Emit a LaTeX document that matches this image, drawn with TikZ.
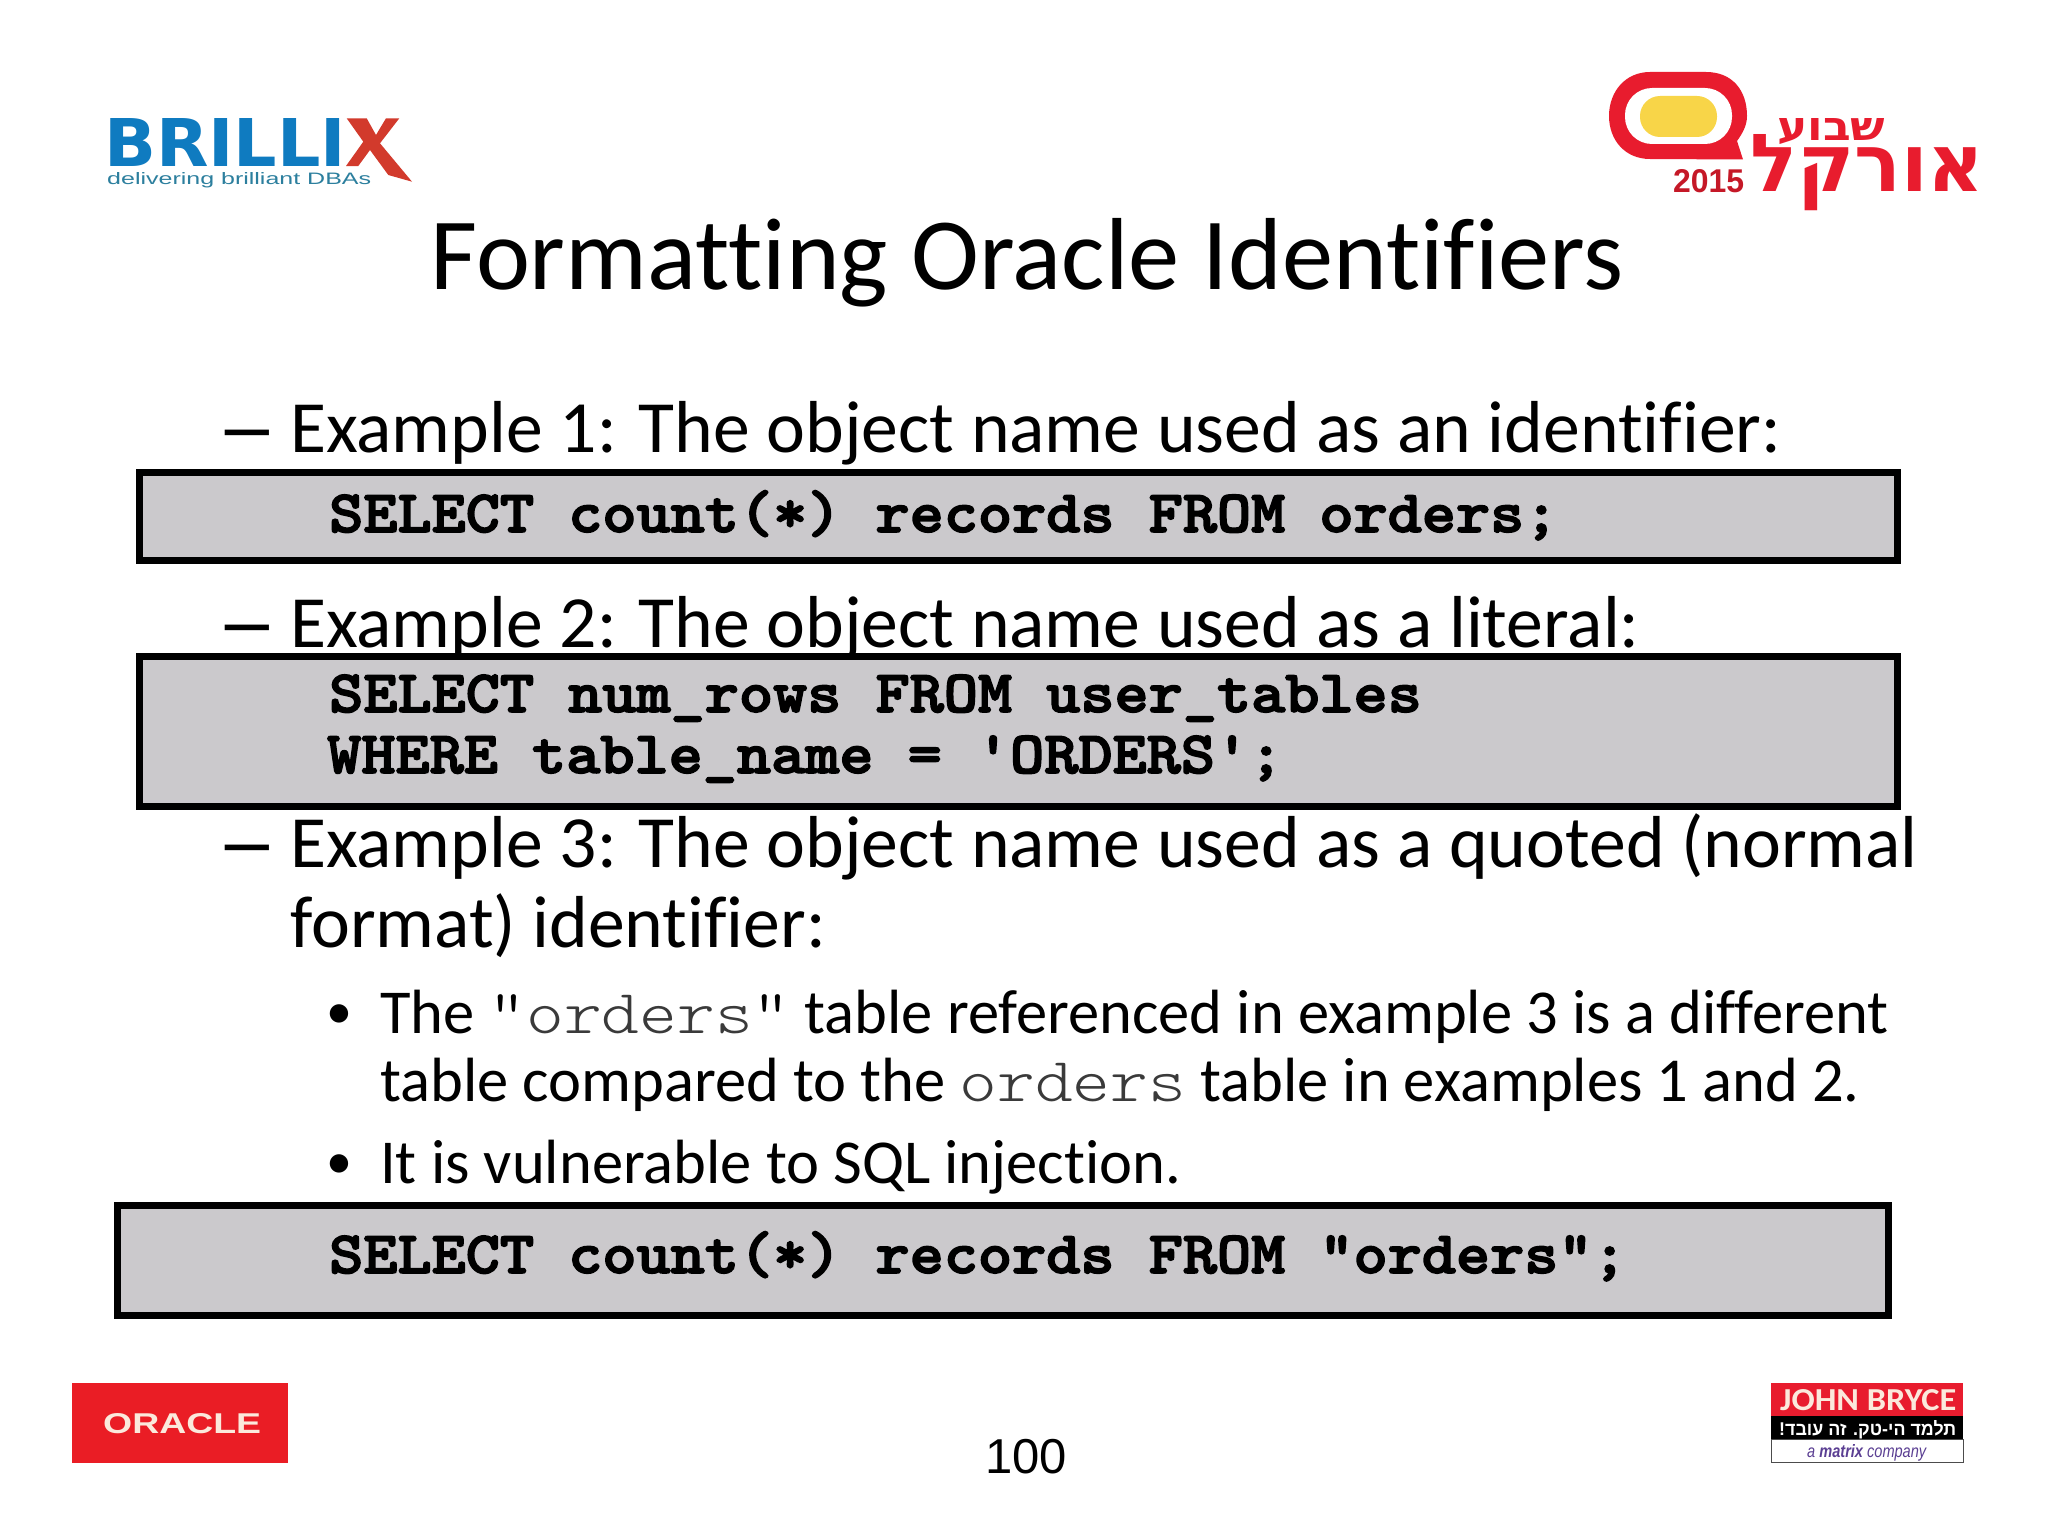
\documentclass[tikz,border=0pt]{standalone}
\usepackage{graphicx}
\usepackage{fontspec}
\setmainfont{Carlito}[Ligatures={TeX,NoCommon}]
\newfontfamily\hebfont[Script=Hebrew]{Liberation Sans}
\newfontfamily\hebbold[Script=Hebrew]{DejaVu Sans}
\newfontfamily\arialf{Liberation Sans}
\newfontfamily\dejaf{DejaVu Sans}
\newfontfamily\codefont[BoldFeatures={FakeBold=2.5}]{Latin Modern Mono Light}
\newfontfamily\thinmono{Latin Modern Mono Light}
\TeXXeTstate=1
\definecolor{codefill}{HTML}{CBC9CC}
\definecolor{brilblue}{HTML}{0F7BC0}
\definecolor{brilred}{HTML}{D23A2C}
\definecolor{brilteal}{HTML}{2C7F9E}
\definecolor{logored}{HTML}{E81C2E}
\definecolor{logoyellow}{HTML}{F8D548}
\definecolor{oraclered}{HTML}{EA1D25}
\definecolor{cream}{HTML}{FBE9DC}
\definecolor{matrixpurple}{HTML}{5B3F93}
\definecolor{monogrey}{HTML}{3A3A3A}
\newcommand{\codeline}[1]{\scalebox{1.084}[1]{\codefont\bfseries #1}}
\newcommand{\monow}[1]{\scalebox{1.15}[1]{\thinmono #1}}
\newcommand{\greyorders}{\textcolor{monogrey}{\monow{orders}}}
\newcommand{\longdash}{\scalebox{1.68}[1.2]{–}}
\tikzset{
  codebox/.style={draw=black,fill=codefill,line width=7pt},
  titletext/.style={inner sep=0,anchor=base,font=\fontsize{102.4}{102.4}\selectfont},
  bodytext/.style={inner sep=0,anchor=base west,font=\fontsize{73.65}{73.65}\selectfont},
  subtext/.style={inner sep=0,anchor=base west,font=\fontsize{62.5}{62.5}\selectfont},
  bullettext/.style={inner sep=0,anchor=base west,font=\fontsize{52}{52}\selectfont},
  codetext/.style={inner sep=0,anchor=base west,font=\fontsize{60}{60}\selectfont},
  logotext/.style={inner sep=0,anchor=north west},
}
\begin{document}
\begin{tikzpicture}[x=1pt,y=-1pt]
\useasboundingbox (0,0) rectangle (2048,1536);
\fill[white] (0,0) rectangle (2048,1536);
% code boxes
\draw[codebox] (139,472) rectangle (1897.5,560);
\draw[codebox] (139,656) rectangle (1897.5,806);
\draw[codebox] (117,1205) rectangle (1888.5,1315);
% title
\node[titletext] (title) at (1027,289) {Formatting Oracle Identifiers};
% body
\node[bodytext] (d1) at (216,457) {\longdash};
\node[bodytext] (ex1) at (290,452) {Example 1: The object name used as an identifier:};
\node[bodytext] (d2) at (216,652) {\longdash};
\node[bodytext] (ex2) at (290,647) {Example 2: The object name used as a literal:};
\node[bodytext] (d3) at (216,872) {\longdash};
\node[bodytext] (ex3) at (290,867) {Example 3: The object name used as a quoted (normal};
\node[bodytext] (ex3b) at (290,947) {format) identifier:};
\node[bullettext] (b1) at (326,1028) {•};
\node[subtext] (s1) at (380,1033) {The \monow{"}\greyorders\monow{"} table referenced in example 3 is a different};
\node[subtext] (s2) at (380,1101) {table compared to the \greyorders{} table in examples 1 and 2.};
\node[bullettext] (b2) at (326,1178) {•};
\node[subtext] (s3) at (380,1183) {It is vulnerable to SQL injection.};
% code
\node[codetext] (c1) at (329,532) {\codeline{SELECT count(*) records FROM orders;}};
\node[codetext] (c2) at (329,712) {\codeline{SELECT num\_rows FROM user\_tables}};
\node[codetext] (c3) at (327,773) {\codeline{WHERE table\_name = 'ORDERS';}};
\node[codetext] (c4) at (329,1273) {\codeline{SELECT count(*) records FROM "orders";}};
% page number
\node[inner sep=0,anchor=base,font=\fontsize{49}{49}\selectfont\arialf] (page) at (1026,1473) {100};
% Brillix logo
\node[logotext,text=brilblue] (bril) at (104,118) {\resizebox{242pt}{48pt}{\dejaf\bfseries BRILLI}};
\fill[brilred] (346.7,118.3) -- (366.7,118.3) -- (376,135) -- (386,118.3) -- (399.3,118.3) -- (380,143.3) -- (412,181.7) -- (388.3,175) -- (370,150) -- (358.3,166) -- (346,166) -- (363.3,141.7) -- cycle;
\node[logotext,text=brilteal] (briltag) at (107,172) {\resizebox{264pt}{12pt}{\arialf delivering brilliant DBAs}};
% Oracle week logo
\fill[logored] (1650,72) -- (1706,72) .. controls (1732,72) and (1747,90) .. (1747,116) .. controls (1747,126) and (1742,134) .. (1737,141) -- (1743,159.5) -- (1650,159) .. controls (1625,159) and (1609,140) .. (1609,116) .. controls (1609,92) and (1625,72) .. (1650,72) -- cycle;
\fill[white,rounded corners=27pt] (1625,88) rectangle (1732,144);
\fill[logoyellow,rounded corners=20pt] (1640,96) rectangle (1717,137);
\node[logotext,text=logored!85!black] (y2015) at (1673,169) {\resizebox{71pt}{23pt}{\arialf\bfseries 2015}};
\node[logotext,text=logored] (heb1) at (1777,118) {\resizebox{108pt}{22pt}{\hebbold\bfseries\beginR שבוע\endR}};
\node[logotext,text=logored] (heb2) at (1750,134) {\resizebox{234pt}{57pt}{\hebbold\bfseries\beginR אורקל\endR}};
% Oracle logo
\fill[oraclered] (72,1383) rectangle (288,1463);
\node[logotext,text=cream] (oracle) at (103,1413) {\resizebox{158pt}{20pt}{\arialf\bfseries ORACLE}};
% John Bryce logo
\fill[logored] (1771,1383) rectangle (1963,1416);
\fill[black] (1771,1416) rectangle (1963,1439);
\draw[fill=white,draw=black!70,line width=1pt] (1771,1439) rectangle (1963,1462);
\node[logotext,text=cream] (jb) at (1780,1389) {\resizebox{176pt}{21pt}{\bfseries JOHN BRYCE}};
\node[logotext,text=white] (jbh) at (1779,1420) {\resizebox{177pt}{15pt}{\hebfont\bfseries\beginR תלמד הי-טק. זה עובד!\endR}};
\node[logotext,text=matrixpurple] (jbm) at (1807,1444) {\resizebox{119pt}{13pt}{\arialf\itshape a \bfseries matrix \mdseries company}};
\end{tikzpicture}
\end{document}
